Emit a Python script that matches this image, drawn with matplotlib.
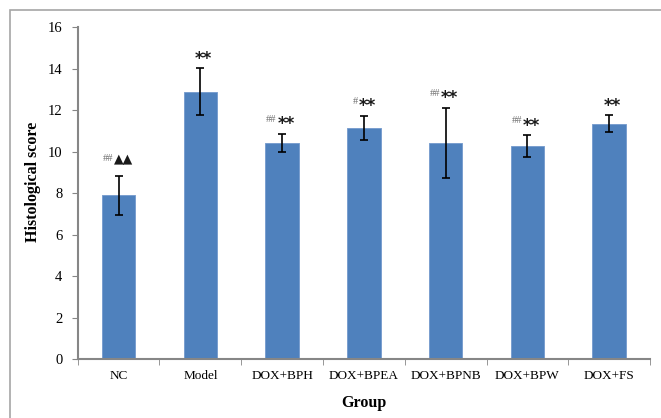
import matplotlib
matplotlib.use('Agg')
import matplotlib.pyplot as plt
from matplotlib.patches import Rectangle
import numpy as np

groups = ['NC', 'Model', 'DOX+BPH', 'DOX+BPEA', 'DOX+BPNB', 'DOX+BPW', 'DOX+FS']
scores = [7.9, 12.9, 10.42, 11.15, 10.42, 10.28, 11.35]
errors = [0.93, 1.12, 0.45, 0.57, 1.7, 0.52, 0.4]
# significance marks: (small gray prefix, main mark)
sig_prefix = ['##', '', '##', '#', '##', '##', '']
sig_mark = ['\u25b2\u25b2', '**', '**', '**', '**', '**', '**']

serif = ['Liberation Serif', 'DejaVu Serif']

fig = plt.figure(figsize=(6.61, 4.18), dpi=100)
# outer chart frame, clipped at right and bottom like the screenshot
fig.patches.append(Rectangle((10 / 661, -0.1), 1.2, 1 - 10 / 418 + 0.1,
                             transform=fig.transFigure, fill=False,
                             edgecolor='#a6a6a6', linewidth=1.2))

ax = fig.add_axes([0.1176, 0.1404, 0.8658, 0.7943])
x = np.arange(len(groups))
ax.bar(x, scores, width=0.41, color='#4f81bd', edgecolor='#7a9fcf', linewidth=0.7, zorder=2)
ax.errorbar(x, scores, yerr=errors, fmt='none', ecolor='black', elinewidth=1.2,
            capsize=3, capthick=1.2, zorder=3)

ax.set_xlim(-0.5, len(groups) - 0.5)
ax.set_ylim(0, 16)
ax.set_yticks(range(0, 17, 2))
ax.set_xticks(x)
ax.set_xticklabels(groups)
ax.set_xticks(np.arange(-0.5, len(groups)), minor=True)
ax.tick_params(axis='x', which='major', length=0, pad=8)
ax.tick_params(axis='x', which='minor', length=4, color='#868686', direction='out')
ax.tick_params(axis='y', length=4, color='#868686', direction='out', pad=7)
for lab in ax.get_xticklabels():
    lab.set_fontfamily(serif)
    lab.set_fontsize(9.5)
for lab in ax.get_yticklabels():
    lab.set_fontfamily(serif)
    lab.set_fontsize(10.5)
for side in ['top', 'right']:
    ax.spines[side].set_visible(False)
for side in ['left', 'bottom']:
    ax.spines[side].set_color('#868686')
    ax.spines[side].set_linewidth(1.5)

ax.set_xlabel('Group', fontfamily=serif, fontsize=11.5, fontweight='bold')
ax.set_ylabel('Histological score', fontfamily=serif, fontsize=11.5, fontweight='bold')
ax.xaxis.set_label_coords(0.5, -0.108)
ax.yaxis.set_label_coords(-0.064, 0.534)

for i in range(len(groups)):
    top = scores[i] + errors[i]
    is_tri = sig_mark[i] != '**'
    if sig_prefix[i]:
        dx = -4
        ax.annotate(sig_prefix[i], (x[i], top), xytext=(dx, 9.5 if is_tri else 7),
                    textcoords='offset points', ha='right', va='bottom',
                    fontsize=7.5, color='#6f6f6f', fontfamily=serif)
        ax.annotate(sig_mark[i], (x[i], top), xytext=(dx + 0.5, 8 if is_tri else 0.5),
                    textcoords='offset points', ha='left', va='bottom',
                    fontsize=9 if is_tri else 12, fontweight='bold',
                    color='#1a1a1a', fontfamily=['DejaVu Sans'])
    else:
        ax.annotate(sig_mark[i], (x[i], top), xytext=(2, 0.5), textcoords='offset points',
                    ha='center', va='bottom', fontsize=12, fontweight='bold',
                    color='#1a1a1a', fontfamily=['DejaVu Sans'])

fig.savefig('out.png', dpi=100)
